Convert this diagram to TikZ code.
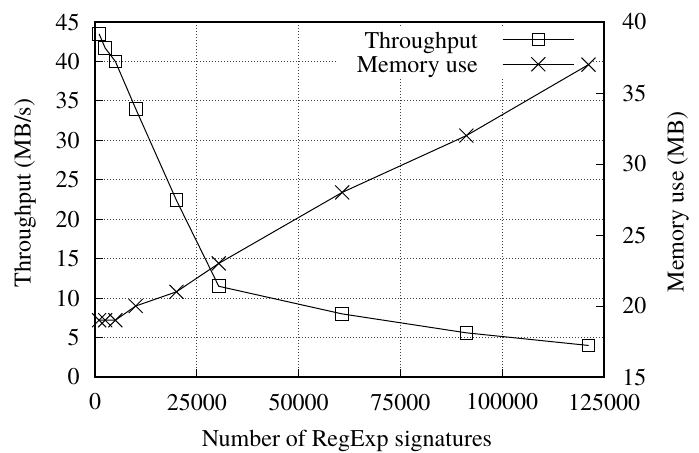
\documentclass[tikz,border=0pt]{standalone}
\usepackage{fontspec}
\setmainfont{texgyretermes}[Extension=.otf,UprightFont=*-regular,BoldFont=*-bold,ItalicFont=*-italic,BoldItalicFont=*-bolditalic]
\usepackage{tikz}
\usetikzlibrary{shapes.misc}

\begin{document}
\begin{tikzpicture}[font=\fontsize{12}{14}\selectfont]
\tikzstyle{sq}=[rectangle,draw,line width=.5pt,minimum size=6.3pt,inner sep=0pt]
\tikzstyle{xx}=[cross out,draw,line width=.5pt,minimum size=6.5pt,inner sep=0pt]
\tikzstyle{gridline}=[black!75,line width=.4pt,dash pattern=on .5pt off 1pt]
\tikzstyle{lab}=[inner sep=0pt]
\useasboundingbox (-47.5pt,-37.5pt) rectangle (302pt,188.5pt);
    \coordinate (sw) at (0,0);
    \coordinate (ne) at (254.5pt,177.5pt);
% left axis: throughput, x in thousands
\begin{scope}[x=2.036pt,y=3.9444pt]
    \foreach \v in {5,10,...,40}
        \draw[gridline] (0,\v) -- (125,\v);
    \foreach \v in {25,50,75,100}
        \draw[gridline] (\v,0) -- (\v,45);
\end{scope}
% key box hides the grid
    \fill[white] (121pt,149.5pt) rectangle (248.5pt,174.5pt);
\begin{scope}[x=2.036pt,y=3.9444pt]
    \foreach \v in {5,10,...,40}
        \draw[line width=.5pt] (0,\v) -- ++(4pt,0);
    \foreach \v in {0,5,...,45}
        \node[lab,anchor=east,xshift=-7.5pt] (yl\v) at (0,\v) {\v};
    \foreach \v/\t in {0/0,25/25000,50/50000,75/75000,100/100000,125/125000}
        \node[lab,yshift=-12.5pt] (xl\v) at (\v,0) {\t};
    \foreach \v in {25,50,75,100}
        \draw[line width=.5pt] (\v,0) -- ++(0,4pt);
    \node[sq] (t1) at (1.0,43.5) {};
    \node[sq] (t2) at (2.5,41.7) {};
    \node[sq] (t3) at (5.0,40.0) {};
    \node[sq] (t4) at (10.0,34.0) {};
    \node[sq] (t5) at (20.0,22.4) {};
    \node[sq] (t6) at (30.4,11.5) {};
    \node[sq] (t7) at (60.7,8.0) {};
    \node[sq] (t8) at (91.2,5.6) {};
    \node[sq] (t9) at (121.2,4.0) {};
    \draw[line width=.5pt] (t1.center) -- (t2.center) -- (t3.center) -- (t4.center) -- (t5.center)
        -- (t6.center) -- (t7.center) -- (t8.center) -- (t9.center);
\end{scope}
% right axis: memory use, 15 to 40 MB
\begin{scope}[x=2.036pt,y=7.1pt,yshift=-106.5pt]
    \foreach \v in {15,20,...,40}
        \draw[line width=.5pt] (125,\v) -- ++(-4pt,0);
    \foreach \v in {15,20,...,40}
        \node[lab,anchor=west,xshift=9pt] (rl\v) at (125,\v) {\v};
    \node[xx] (m1) at (1.0,19) {};
    \node[xx] (m2) at (2.5,19) {};
    \node[xx] (m3) at (5.0,19) {};
    \node[xx] (m4) at (10.0,20) {};
    \node[xx] (m5) at (20.0,21) {};
    \node[xx] (m6) at (30.4,23) {};
    \node[xx] (m7) at (60.7,28) {};
    \node[xx] (m8) at (91.2,32) {};
    \node[xx] (m9) at (121.2,37) {};
    \draw[line width=.5pt] (m1.center) -- (m2.center) -- (m3.center) -- (m4.center) -- (m5.center)
        -- (m6.center) -- (m7.center) -- (m8.center) -- (m9.center);
\end{scope}
% key
    \node[lab,anchor=base east] (keyt) at (191.65pt,164.35pt) {Throughput};
    \node[lab,anchor=base east] (keym) at (191.65pt,152.15pt) {Memory use};
    \coordinate (kt1) at (203.85pt,168.85pt);
    \coordinate (kt2) at (239.5pt,168.85pt);
    \node[sq] (ktm) at (221.65pt,168.85pt) {};
    \draw[line width=.5pt] (kt1) -- (kt2);
    \coordinate (km1) at (203.85pt,156.35pt);
    \coordinate (km2) at (239.5pt,156.35pt);
    \node[xx] (kmm) at (221.65pt,156.35pt) {};
    \draw[line width=.5pt] (km1) -- (km2);
% frame and axis titles
    \draw[line width=.75pt] (sw) rectangle (ne);
    \node[rotate=90] (ylabel) at (-35pt,92pt) {Throughput (MB/s)};
    \node[rotate=90] (y2label) at (291.5pt,87.5pt) {Memory use (MB)};
    \node (xlabel) at (126pt,-32.2pt) {Number of RegExp signatures};
\end{tikzpicture}
\end{document}
